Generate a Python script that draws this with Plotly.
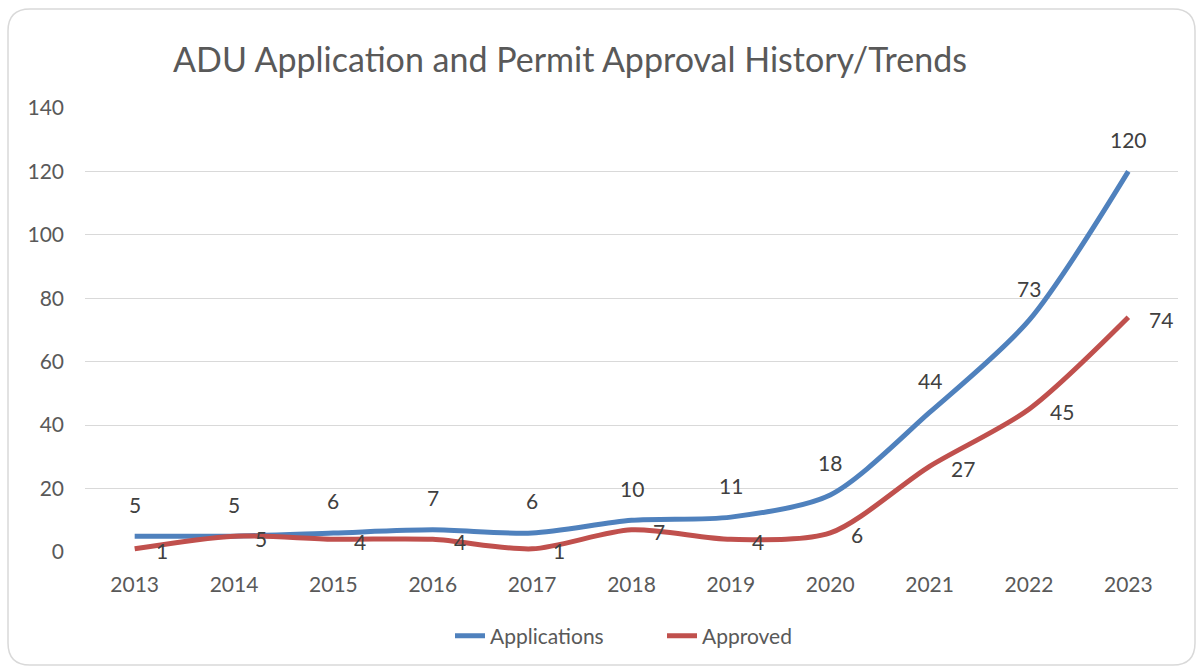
import plotly.graph_objects as go

years = ["2013", "2014", "2015", "2016", "2017", "2018", "2019", "2020", "2021", "2022", "2023"]
applications = [5, 5, 6, 7, 6, 10, 11, 18, 44, 73, 120]
approved = [1, 5, 4, 4, 1, 7, 4, 6, 27, 45, 74]
y_ticks = [0, 20, 40, 60, 80, 100, 120, 140]

BLUE = "#4F81BD"
RED = "#C0504D"
GREY = "#595959"
LABEL = "#404040"
FONT = "Lato, 'Open Sans', sans-serif"

# plot-area pixel geometry
PL, PR, PT, PB = 85, 1178, 108, 552
PW, PH = PR - PL, PB - PT

fig = go.Figure()
fig.add_trace(go.Scatter(x=years, y=applications, mode="lines", name="Applications",
                         line=dict(color=BLUE, width=5, shape="spline", smoothing=0.8)))
fig.add_trace(go.Scatter(x=years, y=approved, mode="lines", name="Approved",
                         line=dict(color=RED, width=5, shape="spline", smoothing=0.8)))

annotations = []
for i, v in enumerate(applications):
    annotations.append(dict(x=i, y=v, xref="x", yref="y", text=str(v), showarrow=False,
                            yshift=32, font=dict(size=21, color=LABEL, family=FONT)))
for i, v in enumerate(approved):
    annotations.append(dict(x=i, y=v, xref="x", yref="y", text=str(v), showarrow=False,
                            xanchor="left", xshift=19, yshift=-2,
                            font=dict(size=21, color=LABEL, family=FONT)))


def px(x):
    return (x - PL) / PW


def py(y):
    return (PB - y) / PH


# rounded border in pixels -> paper
L, R, T, B, rad = 8, 1195, 9, 665, 22
path = (f"M {px(L+rad)},{py(T)} L {px(R-rad)},{py(T)} Q {px(R)},{py(T)} {px(R)},{py(T+rad)} "
        f"L {px(R)},{py(B-rad)} Q {px(R)},{py(B)} {px(R-rad)},{py(B)} "
        f"L {px(L+rad)},{py(B)} Q {px(L)},{py(B)} {px(L)},{py(B-rad)} "
        f"L {px(L)},{py(T+rad)} Q {px(L)},{py(T)} {px(L+rad)},{py(T)} Z")

fig.update_layout(
    width=1202, height=670,
    margin=dict(l=PL, r=1202 - PR, t=PT, b=670 - PB),
    paper_bgcolor="white", plot_bgcolor="white",
    font=dict(family=FONT, color=GREY, size=21),
    title=dict(text="ADU Application and Permit Approval History/Trends",
               x=570 / 1202, xref="container", xanchor="center",
               y=1 - 60 / 670, yref="container", yanchor="middle",
               font=dict(size=34, color=GREY, family=FONT)),
    showlegend=True,
    legend=dict(orientation="h", xref="container", x=(464 - 14) / 1202, xanchor="left",
                yref="container", y=1 - 636 / 670, yanchor="middle",
                entrywidth=207 - 40, entrywidthmode="pixels",
                font=dict(size=21, color=GREY, family=FONT)),
    annotations=annotations,
    xaxis=dict(type="category", range=[-0.5, len(years) - 0.5], showgrid=False,
               showline=False, zeroline=False, ticks="", ticklabelstandoff=18,
               tickfont=dict(size=21, color=GREY)),
    yaxis=dict(range=[0, 140], tickvals=y_ticks, showgrid=True, gridcolor="#D9D9D9",
               gridwidth=1.3, zeroline=False, showline=False, ticks="",
               ticklabelstandoff=20, tickfont=dict(size=21, color=GREY)),
    shapes=[dict(type="path", xref="paper", yref="paper", path=path,
                 line=dict(color="#D9D9D9", width=1.5), layer="below")],
)

fig.write_html("out.html", config={"displayModeBar": False},
               post_script="document.body.style.margin='0px';")
